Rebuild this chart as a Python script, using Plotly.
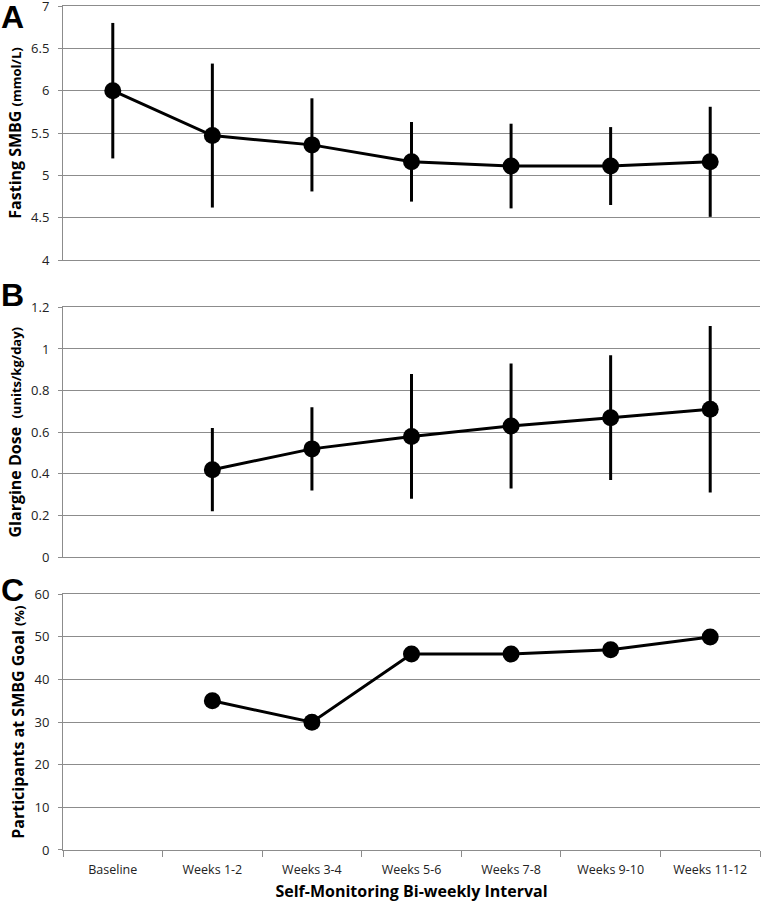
import plotly.graph_objects as go

categories = ["Baseline", "Weeks 1-2", "Weeks 3-4", "Weeks 5-6", "Weeks 7-8", "Weeks 9-10", "Weeks 11-12"]

fasting_mean = [6.00, 5.47, 5.36, 5.16, 5.11, 5.11, 5.16]
fasting_err = [0.80, 0.85, 0.55, 0.47, 0.50, 0.46, 0.65]

glargine_mean = [None, 0.42, 0.52, 0.58, 0.63, 0.67, 0.71]
glargine_err = [None, 0.20, 0.20, 0.30, 0.30, 0.30, 0.40]

goal_pct = [None, 35, 30, 46, 46, 47, 50]

FONT = "Open Sans, Liberation Sans, Arial"
GRID = "#8c8c8c"

fig = go.Figure()

common = dict(mode="lines+markers", line=dict(color="black", width=3),
              marker=dict(color="black", size=17), showlegend=False,
              connectgaps=False)

fig.add_trace(go.Scatter(x=categories, y=fasting_mean,
                         error_y=dict(type="data", array=fasting_err, color="black",
                                      thickness=3, width=0),
                         xaxis="x", yaxis="y", **common))
fig.add_trace(go.Scatter(x=categories, y=glargine_mean,
                         error_y=dict(type="data", array=glargine_err, color="black",
                                      thickness=3, width=0),
                         xaxis="x2", yaxis="y2", **common))
fig.add_trace(go.Scatter(x=categories, y=goal_pct, xaxis="x3", yaxis="y3", **common))

xbase = dict(type="category", categoryorder="array", categoryarray=categories,
             range=[-0.5, 6.5], showgrid=False, zeroline=False, automargin=False,
             showline=True, mirror=True, linecolor=GRID, linewidth=1)

ybase = dict(showgrid=True, gridcolor=GRID, gridwidth=1, zeroline=False,
             showline=True, linecolor=GRID, linewidth=1, automargin=False,
             tickfont=dict(family=FONT, size=13, color="#222"),
             ticks="outside", ticklen=4, tickcolor=GRID, ticklabelstandoff=6,
             ticklabeloverflow="allow", title_standoff=5)

fig.update_layout(
    width=762, height=906,
    margin=dict(l=63, r=2, t=6, b=56),
    paper_bgcolor="white", plot_bgcolor="white",
    font=dict(family=FONT, color="black"),
    xaxis=dict(domain=[0, 1], anchor="y", showticklabels=False, **xbase),
    xaxis2=dict(domain=[0, 1], anchor="y2", showticklabels=False, **xbase),
    xaxis3=dict(domain=[0, 1], anchor="y3", showticklabels=True,
                ticks="outside", tickson="boundaries", ticklen=6, tickcolor=GRID,
                ticklabelstandoff=8,
                tickfont=dict(family=FONT, size=12.5, color="#222"),
                title=dict(text="<b>Self-Monitoring Bi-weekly Interval</b>",
                           font=dict(family=FONT, size=16, color="black"), standoff=8),
                **xbase),
    yaxis=dict(domain=[0.699, 1.0], anchor="x", range=[4, 7], dtick=0.5,
               title=dict(text="<b>Fasting SMBG <span style='font-size:13px'>(mmol/L)</span></b>",
                          font=dict(family=FONT, size=16, color="black")),
               **ybase),
    yaxis2=dict(domain=[0.347, 0.643], anchor="x2", range=[0, 1.2], dtick=0.2,
                title=dict(text="<b>Glargine Dose  <span style='font-size:13px'>(units/kg/day)</span></b>",
                           font=dict(family=FONT, size=16, color="black")),
                **ybase),
    yaxis3=dict(domain=[0, 0.303], anchor="x3", range=[0, 60], dtick=10,
                title=dict(text="<b>Participants at SMBG Goal <span style='font-size:13px'>(%)</span></b>",
                           font=dict(family=FONT, size=16, color="black")),
                **ybase),
)

for letter, ypx in [("A", 17), ("B", 295), ("C", 590)]:
    fig.add_annotation(text="<b>%s</b>" % letter, xref="paper", yref="paper",
                       x=(-1 - 63) / 697, y=(850 - ypx) / 844,
                       xanchor="left", yanchor="middle", showarrow=False,
                       font=dict(family="Liberation Sans, Arial", size=32, color="black"))

fig.write_html("out.html", config={"displayModeBar": False},
               post_script="document.body.style.margin='0';")
